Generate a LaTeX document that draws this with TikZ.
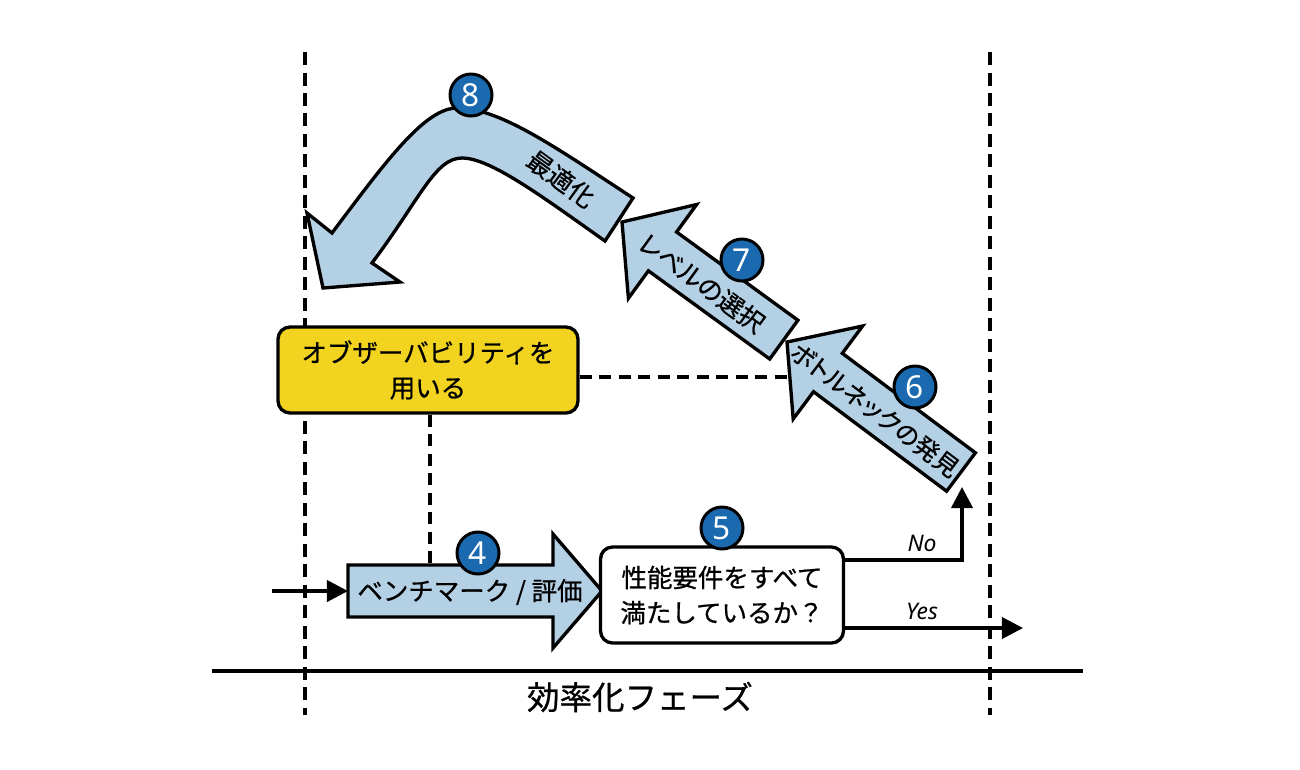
\documentclass[tikz,border=0pt]{standalone}
\usepackage{fontspec}
\setmainfont{Noto Sans CJK JP}
\newfontfamily\jpfont[FakeBold=0.7]{Noto Sans CJK JP}
\newfontfamily\jppfont[FakeBold=0.7,RawFeature=+palt]{Noto Sans CJK JP}
\newfontfamily\latfont{Noto Sans}
\usetikzlibrary{arrows.meta,calc}
\definecolor{arrowblue}{HTML}{B4D0E4}
\definecolor{boxyellow}{HTML}{F2D320}
\definecolor{numblue}{HTML}{1B6AAF}
\begin{document}
\begin{tikzpicture}[x=0.02cm,y=-0.02cm,
  blockarrow/.style={draw=black, fill=arrowblue, line width=1.9pt, line join=miter},
  numcirc/.style={circle, draw=black, line width=1.7pt, fill=numblue, minimum size=0.84cm, inner sep=0pt, text=white, font=\latfont\bfseries\fontsize{18}{18}\selectfont},
  jtext/.style={font=\jpfont\fontsize{14.5}{20}\selectfont, align=center, inner sep=0pt},
  procbox/.style={draw=black, line width=1.9pt, rounded corners=0.24cm, align=center, font=\jpfont\fontsize{14.5}{20}\selectfont},
  guide/.style={line width=1.8pt, dash pattern=on 0.26cm off 0.15cm},
  link/.style={line width=2.1pt, dash pattern=on 0.24cm off 0.15cm},
  flow/.style={line width=2.1pt, -{Triangle[length=12pt,width=12pt]}},
  yn/.style={font=\latfont\itshape\fontsize{13}{13}\selectfont, inner sep=0pt}
]
\useasboundingbox (0,0) rectangle (1300,769);

% guides and baseline
\draw[guide] (305,52) -- (305,715);
\draw[guide] (990,52) -- (990,715);
\draw[line width=1.8pt] (212,671) -- (1083,671);
\node[font=\jpfont\fontsize{18.5}{18.5}\selectfont] (phase) at (640,697) {効率化フェーズ};

% arrow 8 (curved)
\draw[blockarrow] (633,198) .. controls (555,147) and (500,108) .. (457,108)
  .. controls (425,108) and (386,161) .. (332,233) -- (307,213) -- (323,288) -- (400,282) -- (372,263)
  .. controls (420,199) and (435,158) .. (462,158) .. controls (490,158) and (540,195) .. (605,241) -- cycle;
\node[jtext, rotate=-36] (t8) at (561,179) {最適化};
\node[numcirc] (c8) at (471,95) {8};

% arrow 7
\draw[blockarrow] (622,222) -- (696.6,204.5) -- (676.6,232.0) -- (797.9,320.2) -- (769.7,359.0) -- (648.4,270.8) -- (628.4,298.3) -- cycle;
\node[jtext, font=\jppfont\fontsize{14.5}{20}\selectfont, rotate=-36] (t7) at (702,283) {レベルの選択};
\node[numcirc] (c7) at (742,260) {7};

% arrow 6
\draw[blockarrow] (787,342) -- (862.6,326.0) -- (842.3,353.3) -- (975.4,452.8) -- (946.6,491.2) -- (813.5,391.7) -- (793.2,419.0) -- cycle;
\node[jtext, font=\jppfont\fontsize{14}{20}\selectfont, rotate=-37] (t6) at (875,410) {ボトルネックの発見};
\node[numcirc] (c6) at (915,387) {6};
\coordinate (a6left) at (790,377);
\coordinate (a6foot) at (962,487);

% observability box
\node[procbox, fill=boxyellow, minimum width=6cm, minimum height=1.72cm] (obs) at (428,370) {オブザーバビリティを\\用いる};

% arrow 4
\draw[blockarrow] (348,565) -- (553,565) -- (553,534) -- (602,591) -- (553,648) -- (553,617) -- (348,617) -- cycle;
\node[jtext] (t4) at (470,592) {ベンチマーク / 評価};
\node[numcirc] (c4) at (478,553) {4};
\coordinate (a4top) at (430,565);
\coordinate (a4tail) at (348,591);
\coordinate (input) at (272,591);

% question box
\node[procbox, fill=white, minimum width=4.86cm, minimum height=1.92cm] (q) at (722,595) {性能要件をすべて\\満たしているか？};
\node[numcirc] (c5) at (722,528) {5};

% dashed links
\draw[link] (obs.east |- a6left) -- (a6left);
\draw[link] (a4top |- obs.south) -- (a4top);

% flows
\draw[flow] (input) -- (a4tail);
\coordinate (noy) at (0,560);
\coordinate (yesy) at (0,628);
\coordinate (yesend) at (1023,628);
\draw[flow] (q.east |- noy) -| (a6foot);
\draw[flow] (q.east |- yesy) -- (yesend);
\node[yn] (no) at (922,543) {No};
\node[yn] (yes) at (922,611) {Yes};
\end{tikzpicture}
\end{document}
